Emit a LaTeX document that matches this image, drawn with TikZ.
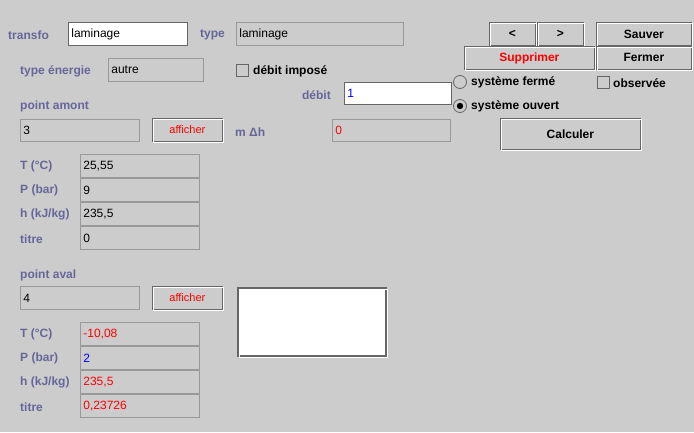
\documentclass[tikz,border=0pt]{standalone}
\usepackage{fontspec}
\setmainfont{Liberation Sans}
\usetikzlibrary{positioning}
\definecolor{panel}{RGB}{204,204,204}
\definecolor{labelcol}{RGB}{102,102,153}
\definecolor{fieldline}{RGB}{153,153,153}
\definecolor{btndark}{RGB}{102,102,102}
\tikzset{
    lbl/.style={
        anchor=west,
        inner sep=0pt,
        yshift=-0.8pt,
        text=labelcol,
        font=\fontsize{12}{14}\selectfont\bfseries,
    },
    blbl/.style={
        lbl,
        text=black,
    },
    field/.style={
        rectangle,
        draw=fieldline,
        fill=panel,
        line width=0.8pt,
        anchor=north west,
        minimum height=23pt,
        inner xsep=3pt,
        inner ysep=0pt,
        align=left,
        font=\fontsize{12}{14}\selectfont,
    },
    entry/.style={
        field,
        draw=btndark,
        fill=white,
    },
    btn/.style={
        rectangle,
        draw=btndark,
        fill=panel,
        line width=0.8pt,
        anchor=north west,
        minimum height=23pt,
        inner sep=0pt,
        font=\fontsize{12}{14}\selectfont\bfseries,
        postaction={draw=white, transform canvas={shift={(0.9pt,-0.9pt)}}},
    },
    smallbtn/.style={
        btn,
        minimum width=70pt,
        text=red,
        font=\fontsize{11}{13}\selectfont,
    },
    checkbox/.style={
        rectangle,
        draw=btndark,
        fill=panel,
        line width=0.8pt,
        minimum size=12pt,
        inner sep=0pt,
        anchor=north west,
    },
    radio/.style={
        circle,
        draw=btndark,
        fill=panel,
        line width=0.8pt,
        minimum size=13pt,
        inner sep=0pt,
    },
    selected/.style={
        path picture={\fill[black] (path picture bounding box.center) circle (3.2pt);},
    },
    x=1pt, y=-1pt,
}
\begin{document}
\begin{tikzpicture}
    \useasboundingbox[fill=panel] (0,0) rectangle (694,432);

    % top line
    \node [lbl] (transfoLbl) at (8,34) {transfo};
    \node [entry, minimum width=119pt, text width=113pt] (transfo) at (68,22) {laminage};
    \node [lbl] (typeLbl) at (200,34) {type};
    \node [field, minimum width=167pt, text width=161pt] (type) at (236,22) {laminage};

    \node [lbl] (energieLbl) at (20,71) {type énergie};
    \node [field, minimum width=95pt, text width=89pt] (energie) at (108,58) {autre};
    \node [checkbox] (imposeBox) at (236,64) {};
    \node [blbl] (imposeLbl) at (253,71) {débit imposé};
    \node [lbl, anchor=east] (debitLbl) at (331,94) {débit};
    \node [entry, minimum width=107pt, text width=101pt, minimum height=22pt, text=blue] (debit) at (344,82) {1};

    % point amont
    \node [lbl] (amontLbl) at (20,106) {point amont};
    \node [field, minimum width=119pt, text width=113pt, minimum height=22pt] (amont) at (20,119) {3};
    \node [smallbtn] (afficherAmont) at (152,118) {afficher};
    \node [lbl] (mdhLbl) at (235,131) {m Δh};
    \node [field, minimum width=118pt, text width=112pt, minimum height=22pt, text=red] (mdh) at (332,119) {0};

    \node [lbl] (TaLbl) at (20,166) {T (°C)};
    \node [field, minimum width=119pt, text width=113pt] (Ta) at (80,154) {25,55};
    \node [lbl] (PaLbl) at (20,190) {P (bar)};
    \node [field, minimum width=119pt, text width=113pt] (Pa) at (80,178) {9};
    \node [lbl] (haLbl) at (20,214) {h (kJ/kg)};
    \node [field, minimum width=119pt, text width=113pt] (ha) at (80,202) {235,5};
    \node [lbl] (xaLbl) at (20,238) {titre};
    \node [field, minimum width=119pt, text width=113pt] (xa) at (80,226) {0};

    % point aval
    \node [lbl] (avalLbl) at (20,275) {point aval};
    \node [field, minimum width=119pt, text width=113pt] (aval) at (20,286) {4};
    \node [smallbtn] (afficherAval) at (152,286) {afficher};
    \node [rectangle, draw=btndark, line width=1.6pt, fill=white, anchor=north west,
           minimum width=148pt, minimum height=68pt,
           postaction={draw=white, line width=0.8pt, transform canvas={shift={(1.2pt,-1.2pt)}}}] (zone) at (237,287) {};

    \node [lbl] (TbLbl) at (20,334) {T (°C)};
    \node [field, minimum width=119pt, text width=113pt, text=red] (Tb) at (80,322) {-10,08};
    \node [lbl] (PbLbl) at (20,358) {P (bar)};
    \node [field, minimum width=119pt, text width=113pt, text=blue] (Pb) at (80,346) {2};
    \node [lbl] (hbLbl) at (20,382) {h (kJ/kg)};
    \node [field, minimum width=119pt, text width=113pt, text=red] (hb) at (80,370) {235,5};
    \node [lbl] (xbLbl) at (20,406) {titre};
    \node [field, minimum width=119pt, text width=113pt, text=red] (xb) at (80,394) {0,23726};

    % buttons on the right
    \node [btn, minimum width=46pt] (prev) at (489,22) {<};
    \node [btn, minimum width=46pt] (next) at (537,22) {>};
    \node [btn, minimum width=95pt] (sauver) at (596,22) {Sauver};
    \node [btn, minimum width=130pt, text=red] (supprimer) at (464,46) {Supprimer};
    \node [btn, minimum width=95pt] (fermer) at (596,46) {Fermer};

    \node [radio] (fermeRadio) at (460,82) {};
    \node [blbl] (fermeLbl) at (471,82) {système fermé};
    \node [checkbox] (observeeBox) at (597,76) {};
    \node [blbl] (observeeLbl) at (613,82) {observée};
    \node [radio, selected] (ouvertRadio) at (460,106) {};
    \node [blbl] (ouvertLbl) at (471,106) {système ouvert};

    \node [btn, minimum width=140pt, minimum height=31pt] (calculer) at (500,118) {Calculer};
\end{tikzpicture}
\end{document}
